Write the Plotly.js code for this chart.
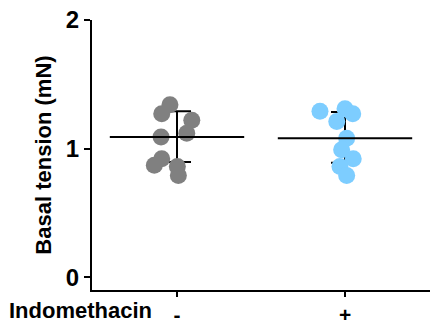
<!DOCTYPE html>
<html>
<head>
<meta charset="utf-8">
<script src="https://cdn.plot.ly/plotly-3.0.1.min.js"></script>
<style>
  html, body { margin: 0; padding: 0; background: #fff; }
  #chart { width: 432px; height: 326px; }
</style>
</head>
<body>
<div id="chart"></div>
<script>
// Groups on the x axis
const groups = ['-', '+'];
const groupLabel = 'Indomethacin';

// Basal tension per preparation (mN)
const controlTension = [1.34, 1.27, 1.22, 1.12, 1.09, 0.92, 0.87, 0.86, 0.79];
const indoTension    = [1.29, 1.31, 1.27, 1.21, 1.08, 0.99, 0.92, 0.86, 0.79];

// Horizontal scatter of each dot within its column (category units)
const controlJitter = [-0.042, -0.091, 0.088, 0.058, -0.095, -0.091, -0.135, 0.002, 0.008];
const indoJitter    = [-0.149, 0.000, 0.046, -0.049, 0.010, -0.020, 0.049, -0.030, 0.010];

// Median with interquartile range per group
const medians = [1.09, 1.08];
const q1 = [0.895, 0.89];
const q3 = [1.29, 1.285];

const yTicks = [0, 1, 2];

const FONT = 'Liberation Sans, Arial, Helvetica, sans-serif';
const GREY = 'rgb(128,128,128)';
const BLUE = 'rgb(125,205,255)';
const HALF = 0.4;   // half-width of the median bar

const xs = (jit, g) => jit.map(j => g + j);

// Interquartile whiskers (drawn under the dots)
const iqr = {
  type: 'scatter', mode: 'markers',
  x: [0, 1], y: medians,
  marker: { size: 1, color: 'rgba(0,0,0,0)' },
  error_y: {
    type: 'data', symmetric: false,
    array: q3.map((v, i) => v - medians[i]),
    arrayminus: q1.map((v, i) => medians[i] - v),
    color: '#000', thickness: 2, width: 14
  },
  hoverinfo: 'skip', showlegend: false
};

const dotsControl = {
  type: 'scatter', mode: 'markers',
  x: xs(controlJitter, 0), y: controlTension,
  marker: { size: 17, color: GREY, line: { width: 0 } },
  showlegend: false
};
const dotsIndo = {
  type: 'scatter', mode: 'markers',
  x: xs(indoJitter, 1), y: indoTension,
  marker: { size: 17, color: BLUE, line: { width: 0 } },
  showlegend: false
};

// Median bars on top
const mx = [], my = [];
medians.forEach((m, g) => { mx.push(g - HALF, g + HALF, null); my.push(m, m, null); });
const medianBars = {
  type: 'scatter', mode: 'lines',
  x: mx, y: my,
  line: { color: '#000', width: 2 },
  hoverinfo: 'skip', showlegend: false
};

const layout = {
  width: 432, height: 326,
  margin: { l: 92, r: 2, t: 20, b: 36 },
  paper_bgcolor: '#fff', plot_bgcolor: '#fff',
  font: { family: FONT, color: '#000', size: 20, weight: 'bold' },
  showlegend: false,
  xaxis: {
    range: [-0.506, 1.506],
    tickvals: [0, 1], ticktext: groups,
    showgrid: false, zeroline: false,
    showline: true, linecolor: '#000', linewidth: 2,
    ticks: 'outside', ticklen: 5, tickwidth: 2, tickcolor: '#000',
    tickfont: { family: FONT, size: 21, weight: 'bold' }
  },
  yaxis: {
    range: [-0.10, 2.0],
    tickvals: yTicks, ticktext: yTicks.map(String),
    showgrid: false, zeroline: false,
    showline: true, linecolor: '#000', linewidth: 2,
    ticks: 'outside', ticklen: 6, tickwidth: 2, tickcolor: '#000',
    tickfont: { family: FONT, size: 24, weight: 'bold' },
    title: { text: 'Basal tension (mN)', font: { family: FONT, size: 22, weight: 'bold' }, standoff: 8 }
  },
  annotations: [{
    text: groupLabel, xref: 'paper', yref: 'paper',
    x: -0.2515, y: -0.075, xanchor: 'left', yanchor: 'middle',
    showarrow: false, font: { family: FONT, size: 22, weight: 'bold' }
  }]
};

Plotly.newPlot('chart', [iqr, dotsControl, dotsIndo, medianBars], layout, { displayModeBar: false, staticPlot: true });
</script>
</body>
</html>
